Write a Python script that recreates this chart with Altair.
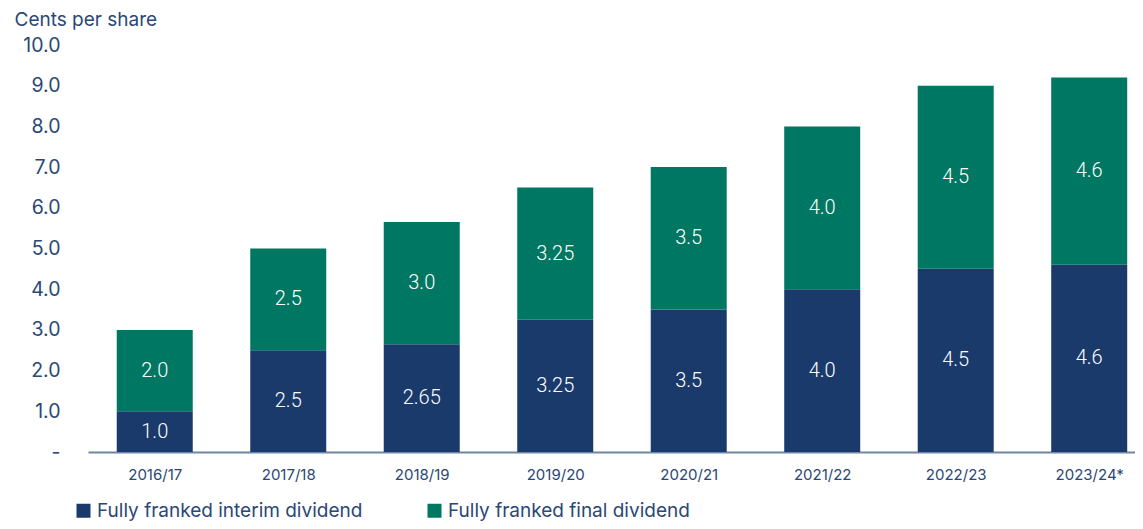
import json
import altair as alt
import pandas as pd

years = ["2016/17", "2017/18", "2018/19", "2019/20", "2020/21", "2021/22", "2022/23", "2023/24*"]
interim = [1.0, 2.5, 2.65, 3.25, 3.5, 4.0, 4.5, 4.6]
final = [2.0, 2.5, 3.0, 3.25, 3.5, 4.0, 4.5, 4.6]
interim_labels = ["1.0", "2.5", "2.65", "3.25", "3.5", "4.0", "4.5", "4.6"]
final_labels = ["2.0", "2.5", "3.0", "3.25", "3.5", "4.0", "4.5", "4.6"]
series_names = ["Fully franked interim dividend", "Fully franked final dividend"]
y_ticks = [0, 1, 2, 3, 4, 5, 6, 7, 8, 9, 10]

NAVY = "#1a3a6c"
TEAL = "#007762"
TEXT = "#2a4775"
FONT = "Inter"

rows = []
for i, yr in enumerate(years):
    rows.append(dict(idx=i, year=yr, series=series_names[0], y0=0.0, y1=interim[i],
                     mid=interim[i] / 2, label=interim_labels[i], order=0))
    rows.append(dict(idx=i, year=yr, series=series_names[1], y0=interim[i],
                     y1=interim[i] + final[i], mid=interim[i] + final[i] / 2,
                     label=final_labels[i], order=1))
df = pd.DataFrame(rows)

year_js = json.dumps(years)

x_scale = alt.Scale(domain=[-0.5, 7.343], nice=False, zero=False, padding=0)

x_enc = alt.X(
    "idx:Q",
    scale=x_scale,
    axis=alt.Axis(
        values=list(range(len(years))),
        labelExpr=f"{year_js}[datum.value]",
        grid=False, ticks=False, domain=True, domainColor="#6f86a6", domainWidth=2,
        labelPadding=15, labelFontSize=15, labelColor=TEXT, labelFont=FONT,
        title=None,
    ),
)

y_scale = alt.Scale(domain=[0, 10], nice=False)

bars = alt.Chart(df).mark_bar(size=76).encode(
    x=x_enc,
    y=alt.Y(
        "y0:Q",
        scale=y_scale,
        axis=alt.Axis(
            values=y_ticks,
            labelExpr="datum.value == 0 ? '-' : format(datum.value, '.1f')",
            grid=False, ticks=False, domain=False,
            labelPadding=28, labelFontSize=19.5, labelColor=TEXT, labelFont=FONT,
            title="Cents per share", titleAngle=0, titleAlign="left",
            titleX=-74, titleY=-20, titleBaseline="alphabetic",
            titleFontSize=19, titleFontWeight="normal", titleColor=TEXT, titleFont=FONT,
        ),
    ),
    y2="y1:Q",
    color=alt.Color(
        "series:N",
        scale=alt.Scale(domain=series_names, range=[NAVY, TEAL]),
        legend=alt.Legend(
            orient="none", legendX=-14, legendY=456, direction="horizontal",
            title=None, symbolType="square", symbolSize=196, symbolStrokeWidth=0,
            labelFontSize=19, labelColor=TEXT, labelFont=FONT, labelOffset=4,
            labelLimit=0, columnPadding=62, padding=0,
        ),
    ),
)

text = alt.Chart(df).mark_text(
    color="white", fontSize=20, font="Roboto", fontWeight=300, baseline="middle"
).encode(
    x=alt.X("idx:Q", scale=x_scale),
    y=alt.Y("mid:Q", scale=y_scale),
    text="label:N",
)

chart = alt.layer(bars, text).properties(
    width=1047,
    height=407,
    padding={"left": 80, "top": 37, "right": 0, "bottom": 69},
    autosize=alt.AutoSizeParams(type="none"),
).configure_view(stroke=None)

chart.save("out.html", embed_options={"renderer": "svg", "actions": False})
